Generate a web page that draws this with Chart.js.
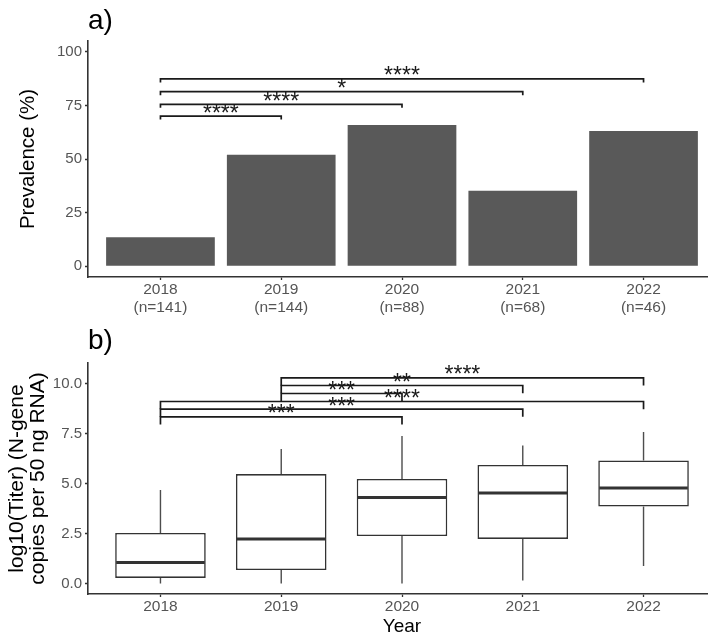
<!DOCTYPE html>
<html>
<head>
<meta charset="utf-8">
<script src="https://cdn.jsdelivr.net/npm/chart.js@4.4.1/dist/chart.umd.min.js"></script>
<style>
  html, body { margin: 0; padding: 0; background: #fff; width: 708px; height: 636px; overflow: hidden; }
  canvas { display: block; }
</style>
</head>
<body>
<canvas id="prevChart" width="716" height="318"></canvas>
<canvas id="titerChart" width="716" height="318"></canvas>
<script>
// ── data ──
const years = ['2018', '2019', '2020', '2021', '2022'];
const sampleN = ['(n=141)', '(n=144)', '(n=88)', '(n=68)', '(n=46)'];
const prevalence = [13.5, 52.0, 65.9, 35.2, 63.1];
const prevTicks = [0, 25, 50, 75, 100];

const prevSigPairs = [[1, 2], [1, 3], [1, 4], [1, 5]];
const prevSigY = [70.0, 75.5, 81.4, 87.3];
const prevSigLabels = ['****', '****', '*', '****'];

const titerMin = [0.0, 0.0, 0.0, 0.15, 0.87];
const titerQ1 = [0.28, 0.67, 2.37, 2.23, 3.85];
const titerMed = [1.05, 2.23, 4.30, 4.52, 4.77];
const titerQ3 = [2.53, 5.47, 5.23, 5.93, 6.15];
const titerMax = [4.67, 6.72, 7.37, 6.90, 7.58];
const titerTicks = [0, 2.5, 5, 7.5, 10];

const titerSigPairs = [[1, 3], [1, 4], [1, 5], [2, 3], [2, 4], [2, 5]];
const titerSigY = [8.33, 8.72, 9.10, 9.50, 9.90, 10.28];
const titerSigLabels = ['***', '***', '****', '***', '**', '****'];

Chart.defaults.font.family = "'Liberation Sans', Arial, sans-serif";
Chart.defaults.animation = false;

const TICK_COL = '#555555';
const AXIS_COL = '#333333';
const INK = '#1a1a1a';

// significance brackets, drawn through the chart's scales
function sigBrackets(pairs, levels, labels, tipPx) {
  return {
    id: 'sigBrackets',
    afterDatasetsDraw(chart) {
      const { ctx, scales: { x, y } } = chart;
      ctx.save();
      ctx.strokeStyle = INK;
      ctx.fillStyle = INK;
      ctx.lineWidth = 1.7;
      ctx.font = "23px 'Liberation Sans', Arial, sans-serif";
      ctx.textAlign = 'center';
      ctx.textBaseline = 'alphabetic';
      pairs.forEach((p, i) => {
        const x1 = x.getPixelForValue(p[0]);
        const x2 = x.getPixelForValue(p[1]);
        const yy = y.getPixelForValue(levels[i]);
        ctx.beginPath();
        ctx.moveTo(x1, yy + tipPx);
        ctx.lineTo(x1, yy);
        ctx.lineTo(x2, yy);
        ctx.lineTo(x2, yy + tipPx);
        ctx.stroke();
        const m = ctx.measureText(labels[i]);
        const yc = yy - 8;
        ctx.fillText(labels[i], (x1 + x2) / 2, yc + (m.actualBoundingBoxAscent - m.actualBoundingBoxDescent) / 2);
      });
      ctx.restore();
    }
  };
}

function panelLabel(text, baseline) {
  return {
    id: 'panelLabel',
    afterDraw(chart) {
      const { ctx } = chart;
      ctx.save();
      ctx.fillStyle = '#000';
      ctx.font = "28px 'Liberation Sans', Arial, sans-serif";
      ctx.textAlign = 'left';
      ctx.textBaseline = 'alphabetic';
      ctx.fillText(text, 88, baseline);
      ctx.restore();
    }
  };
}

// whiskers + medians on top of the floating-bar boxes
const boxWhiskers = {
  id: 'boxWhiskers',
  afterDatasetsDraw(chart) {
    const { ctx, scales: { y } } = chart;
    const meta = chart.getDatasetMeta(0);
    ctx.save();
    meta.data.forEach((bar, i) => {
      const cx = bar.x, half = bar.width / 2;
      ctx.strokeStyle = '#4d4d4d';
      ctx.lineWidth = 1.4;
      ctx.beginPath();
      ctx.moveTo(cx, y.getPixelForValue(titerQ3[i]));
      ctx.lineTo(cx, y.getPixelForValue(titerMax[i]));
      ctx.moveTo(cx, y.getPixelForValue(titerQ1[i]));
      ctx.lineTo(cx, y.getPixelForValue(titerMin[i]));
      ctx.stroke();
      ctx.strokeStyle = AXIS_COL;
      ctx.lineWidth = 3;
      const ym = y.getPixelForValue(titerMed[i]);
      ctx.beginPath();
      ctx.moveTo(cx - half + 1, ym);
      ctx.lineTo(cx + half - 1, ym);
      ctx.stroke();
    });
    ctx.restore();
  }
};

function xAxis(labelFn, height, title) {
  return {
    type: 'linear',
    offset: false,
    min: 0.4, max: 5.6,
    afterBuildTicks: s => { s.ticks = years.map((_, i) => ({ value: i + 1 })); },
    afterFit: s => { s.height = height; },
    ticks: {
      autoSkip: false, maxRotation: 0, padding: 1.5,
      color: TICK_COL,
      font: { size: 15.5, lineHeight: 1.12 },
      callback: v => labelFn(v - 1)
    },
    grid: { offset: false, drawOnChartArea: false, drawTicks: true, tickLength: 3, tickColor: AXIS_COL, tickWidth: 1.3 },
    border: { display: true, color: AXIS_COL, width: 1.6 },
    title: title
  };
}

function yAxis(min, max, tickVals, fmt, title) {
  return {
    min: min, max: max,
    afterBuildTicks: s => { s.ticks = tickVals.map(v => ({ value: v })); },
    afterFit: s => { s.width = 88; },
    ticks: { color: TICK_COL, font: { size: 15 }, padding: 3, callback: fmt },
    grid: { drawOnChartArea: false, drawTicks: true, tickLength: 3, tickColor: AXIS_COL, tickWidth: 1.3 },
    border: { display: true, color: AXIS_COL, width: 1.6 },
    title: title
  };
}

// ── CHART a: prevalence bars ──
new Chart(document.getElementById('prevChart'), {
  type: 'bar',
  data: {
    datasets: [{
      data: prevalence.map((v, i) => ({ x: i + 1, y: v })),
      backgroundColor: '#595959',
      borderWidth: 0,
      barPercentage: 0.9,
      categoryPercentage: 1.0
    }]
  },
  options: {
    responsive: false,
    layout: { padding: { top: 41, right: 0, bottom: 0, left: 0 } },
    plugins: { legend: { display: false }, tooltip: { enabled: false } },
    scales: {
      x: xAxis(i => [years[i], sampleN[i]], 41, { display: false }),
      y: yAxis(-5, 105, prevTicks, v => String(v), {
        display: true, text: 'Prevalence (%)', color: '#000',
        font: { size: 20.5, lineHeight: 1.2 }, padding: { top: 16, bottom: 0 }
      })
    }
  },
  plugins: [sigBrackets(prevSigPairs, prevSigY, prevSigLabels, 3.5), panelLabel('a)', 29)]
});

// ── CHART b: titer box plots ──
new Chart(document.getElementById('titerChart'), {
  type: 'bar',
  data: {
    datasets: [{
      data: years.map((_, i) => ({ x: i + 1, y: [titerQ1[i], titerQ3[i]] })),
      backgroundColor: '#ffffff',
      borderColor: AXIS_COL,
      borderWidth: 1.6,
      borderSkipped: false,
      barPercentage: 0.75,
      categoryPercentage: 1.0
    }]
  },
  options: {
    responsive: false,
    layout: { padding: { top: 45, right: 0, bottom: 0, left: 0 } },
    plugins: { legend: { display: false }, tooltip: { enabled: false } },
    scales: {
      x: xAxis(i => years[i], 42, {
        display: true, text: 'Year', color: '#000',
        font: { size: 19, lineHeight: 1.0 }, padding: { top: 0, bottom: 0 }
      }),
      y: yAxis(-0.525, 11.025, titerTicks, v => v.toFixed(1), {
        display: true, text: ['log10(Titer) (N-gene', 'copies per 50 ng RNA)'], color: '#000',
        font: { size: 21, lineHeight: 1.03 }, padding: { top: 6, bottom: 0 }
      })
    }
  },
  plugins: [boxWhiskers, sigBrackets(titerSigPairs, titerSigY, titerSigLabels, 7.7), panelLabel('b)', 30.5)]
});
</script>
</body>
</html>
